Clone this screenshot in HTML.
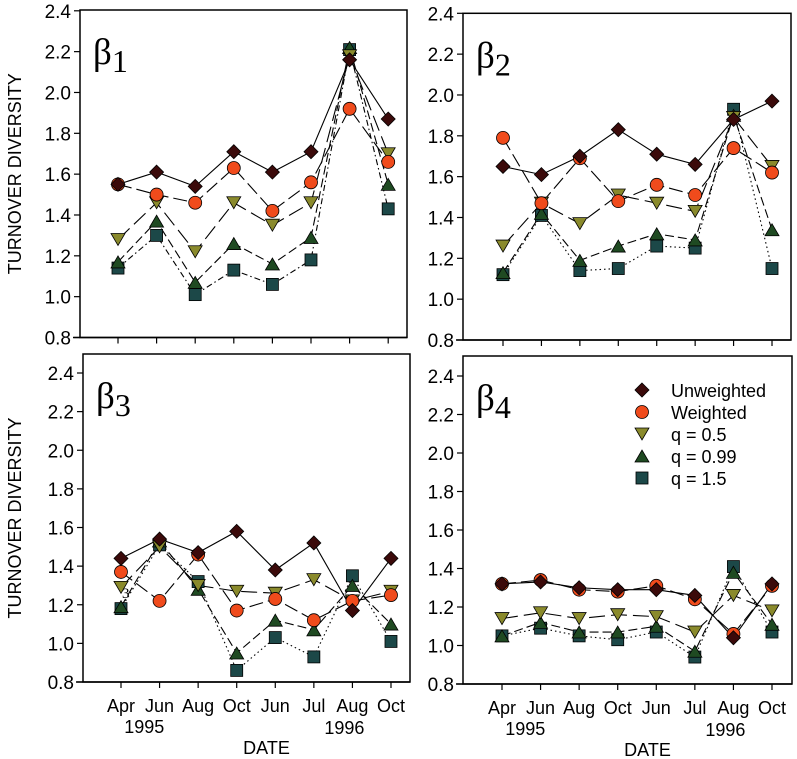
<!DOCTYPE html>
<html><head><meta charset="utf-8"><style>
body{margin:0;background:#fff;}
svg{display:block;font-family:"Liberation Sans",Arial,sans-serif;}
</style></head><body>
<svg id="chart" width="797" height="759" viewBox="0 0 797 759" xmlns="http://www.w3.org/2000/svg"></svg>
<script>
const months = ["Apr","Jun","Aug","Oct","Jun","Jul","Aug","Oct"];
const yTicks = [0.8,1.0,1.2,1.4,1.6,1.8,2.0,2.2,2.4];
const seriesNames = ["Unweighted","Weighted","q = 0.5","q = 0.99","q = 1.5"];
const p1Unw = [1.55,1.61,1.54,1.71,1.61,1.71,2.16,1.87];
const p1W   = [1.55,1.50,1.46,1.63,1.42,1.56,1.92,1.66];
const p1q05 = [1.28,1.46,1.22,1.46,1.35,1.46,2.18,1.70];
const p1q099= [1.17,1.37,1.07,1.26,1.16,1.29,2.22,1.55];
const p1q15 = [1.14,1.30,1.01,1.13,1.06,1.18,2.21,1.43];
const p2Unw = [1.65,1.61,1.70,1.83,1.71,1.66,1.88,1.97];
const p2W   = [1.79,1.47,1.69,1.48,1.56,1.51,1.74,1.62];
const p2q05 = [1.26,1.47,1.37,1.51,1.47,1.43,1.89,1.65];
const p2q099= [1.13,1.42,1.19,1.26,1.32,1.29,1.90,1.34];
const p2q15 = [1.12,1.41,1.14,1.15,1.26,1.25,1.93,1.15];
const p3Unw = [1.44,1.54,1.47,1.58,1.38,1.52,1.17,1.44];
const p3W   = [1.37,1.22,1.46,1.17,1.23,1.12,1.22,1.25];
const p3q05 = [1.29,1.50,1.30,1.27,1.26,1.33,1.22,1.27];
const p3q099= [1.19,1.53,1.28,0.95,1.12,1.07,1.30,1.10];
const p3q15 = [1.18,1.51,1.32,0.86,1.03,0.93,1.35,1.01];
const p4Unw = [1.32,1.33,1.30,1.29,1.29,1.26,1.04,1.32];
const p4W   = [1.32,1.34,1.29,1.28,1.31,1.24,1.06,1.31];
const p4q05 = [1.14,1.17,1.14,1.16,1.15,1.07,1.26,1.18];
const p4q099= [1.05,1.12,1.07,1.07,1.10,0.97,1.38,1.11];
const p4q15 = [1.05,1.09,1.05,1.03,1.07,0.94,1.41,1.07];

const NS="http://www.w3.org/2000/svg";
const svg=document.getElementById('chart');
function mk(tag,attrs,parent){const e=document.createElementNS(NS,tag);for(const k in attrs)e.setAttribute(k,attrs[k]);(parent||svg).appendChild(e);return e;}

const styles=[
 {fill:"#3b0a0a",dash:"",shape:"diamond"},
 {fill:"#f04b1c",dash:"14 5",shape:"circle"},
 {fill:"#8a8a2c",dash:"16 6",shape:"down"},
 {fill:"#1f4a22",dash:"9 4",shape:"up"},
 {fill:"#1c4848",dash:"6 3 1.5 3",shape:"square"}
];

function marker(g,shape,x,y,fill){
  let e;
  if(shape==="diamond") e=mk('polygon',{points:`${x},${y-7} ${x+7},${y} ${x},${y+7} ${x-7},${y}`},g);
  else if(shape==="circle") e=mk('circle',{cx:x,cy:y,r:6.5},g);
  else if(shape==="down") e=mk('polygon',{points:`${x-7},${y-6} ${x+7},${y-6} ${x},${y+6}`},g);
  else if(shape==="up") e=mk('polygon',{points:`${x-7},${y+6} ${x+7},${y+6} ${x},${y-6}`},g);
  else e=mk('rect',{x:x-6,y:y-6,width:12,height:12},g);
  e.setAttribute('fill',fill);e.setAttribute('stroke','#000');e.setAttribute('stroke-width','0.8');
  
  
}

function panel(cfg){
  const g=mk('g',{});
  
  
  const xs=i=>cfg.x0+i*cfg.dx;
  const ys=v=>cfg.yBot-(v-0.8)*(cfg.yBot-cfg.yTop)/1.6;
  const fr=mk('rect',{x:cfg.fl,y:cfg.ft,width:cfg.fr-cfg.fl,height:cfg.yBot-cfg.ft,fill:'none',stroke:'#000','stroke-width':1.5},g);
  
  
  mk('line',{x1:cfg.fl-7,x2:cfg.fr,y1:cfg.yBot,y2:cfg.yBot,stroke:'#000','stroke-width':1.5},g);
  yTicks.forEach(v=>{
    mk('line',{x1:cfg.fl-6,x2:cfg.fl,y1:ys(v),y2:ys(v),stroke:'#000','stroke-width':1.2},g);
    const t=mk('text',{x:cfg.fl-9,y:ys(v)+7,'text-anchor':'end','font-size':19},g);
    t.textContent=v.toFixed(1);
    
    
  });
  months.forEach((m,i)=>{
    mk('line',{x1:xs(i),x2:xs(i),y1:cfg.yBot,y2:cfg.yBot+6,stroke:'#000','stroke-width':1.2},g);
    if(cfg.labels){
      const t=mk('text',{x:xs(i),y:cfg.yBot+30,'text-anchor':'middle','font-size':18},g);
      t.textContent=m;
      
      
    }
  });
  if(cfg.labels){
    const a=mk('text',{x:(xs(0)+xs(1))/2+4,y:cfg.yBot+51,'text-anchor':'middle','font-size':18},g);a.textContent='1995';
    
    
    const b=mk('text',{x:xs(6)-8,y:cfg.yBot+52,'text-anchor':'middle','font-size':18},g);b.textContent='1996';
    
    
    const d=mk('text',{x:(cfg.fl+cfg.fr)/2+20,y:cfg.yBot+72,'text-anchor':'middle','font-size':18},g);d.textContent='DATE';
    
    
  }
  if(cfg.ytitle){
    const cy=(cfg.ft+cfg.yBot)/2;
    const t=mk('text',{x:0,y:0,transform:`translate(21,${cy}) rotate(-90)`,'text-anchor':'middle','font-size':18},g);
    t.textContent='TURNOVER DIVERSITY';
    
    
  }
  const bt=mk('text',{x:cfg.fl+13,y:cfg.ft+54,'font-size':37,'font-family':'"Liberation Serif",serif'},g);
  bt.innerHTML='β<tspan font-size="32" dy="8">'+cfg.idx+'</tspan>';
  
  
  cfg.series.forEach((arr,si)=>{
    const st=styles[si];
    let dash=st.dash; if(si===4&&cfg.dotted) dash="1.5 3";
    const pl=mk('polyline',{points:arr.map((v,i)=>xs(i)+','+ys(v)).join(' '),fill:'none',stroke:'#000','stroke-width':1.1,'stroke-dasharray':dash},g);
    
    
  });
  for(let si=4;si>=0;si--){cfg.series[si].forEach((v,i)=>marker(g,styles[si].shape,xs(i),ys(v),styles[si].fill));}
  return g;
}

panel({name:'panel-beta1',idx:1,fl:80,fr:407,ft:10,yTop:10.8,yBot:337.5,x0:118,dx:38.6,labels:false,ytitle:true,dotted:false,series:[p1Unw,p1W,p1q05,p1q099,p1q15]});
panel({name:'panel-beta2',idx:2,fl:463,fr:791,ft:13.3,yTop:13.3,yBot:340,x0:503,dx:38.43,labels:false,ytitle:false,dotted:true,series:[p2Unw,p2W,p2q05,p2q099,p2q15]});
panel({name:'panel-beta3',idx:3,fl:83,fr:410,ft:354,yTop:373,yBot:682,x0:121,dx:38.57,labels:true,ytitle:true,dotted:true,series:[p3Unw,p3W,p3q05,p3q099,p3q15]});
panel({name:'panel-beta4',idx:4,fl:463,fr:792,ft:356,yTop:376,yBot:684,x0:502,dx:38.57,labels:true,ytitle:false,dotted:true,series:[p4Unw,p4W,p4q05,p4q099,p4q15]});

const s3=mk('text',{x:122,y:598,'font-size':15,'font-family':'"Liberation Serif",serif'});s3.textContent='3';



const lg=mk('g',{});


seriesNames.forEach((n,i)=>{
  const y=390+i*22;
  marker(lg,styles[i].shape,642,y,styles[i].fill);
  const t=mk('text',{x:671,y:y+7,'font-size':18},lg);t.textContent=n;
  
  
});
</script>
</body></html>
